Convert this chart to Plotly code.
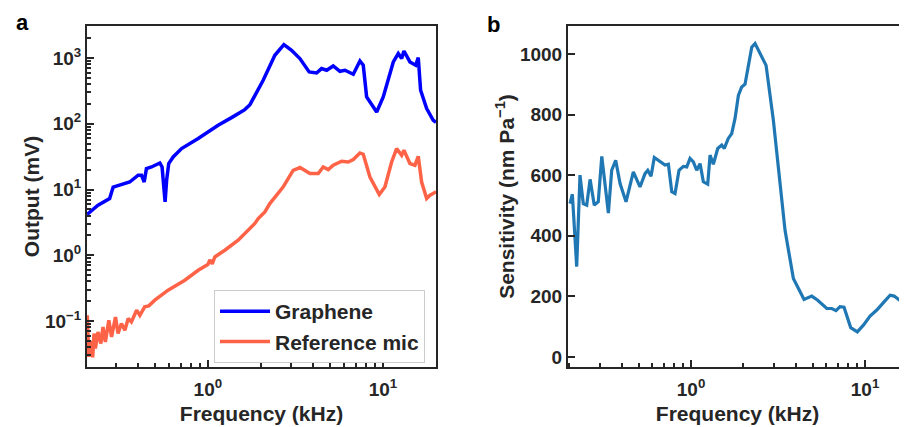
import plotly.graph_objects as go

# ---------------- data ----------------
# Panel a: Graphene output (mV) vs frequency (kHz)
freq_graphene = [0.204, 0.207, 0.236, 0.26, 0.275, 0.288, 0.314, 0.358, 0.400, 0.418, 0.433, 0.446,
                 0.477, 0.532, 0.548, 0.560, 0.570, 0.582, 0.598, 0.634, 0.708, 0.881, 1.145, 1.366,
                 1.626, 1.74, 1.94, 2.07, 2.414, 2.719, 3.007, 3.355, 3.79, 4.18, 4.46, 4.77, 5.20,
                 5.68, 6.07, 6.77, 7.39, 7.72, 8.07, 9.21, 10.04, 11.46, 12.23, 12.79, 13.18, 14.26,
                 15.38, 15.91, 16.41, 17.77, 19.38, 20.1]
out_graphene = [4.2, 4.31, 5.76, 6.6, 7.28, 10.9, 11.6, 13.0, 16.5, 16.5, 13.0, 20.8,
                22.0, 25.3, 22.0, 12.0, 6.47, 14.0, 24.8, 31.3, 42.0, 59.6, 94.9, 124,
                164, 195, 323, 459, 1101, 1602, 1313, 981, 614, 593, 691, 652, 757,
                629, 652, 566, 902, 776, 256, 151, 256, 871, 1169, 981, 1280, 871,
                776, 1016, 323, 170, 113, 105]

# Panel a: Reference mic output (mV) vs frequency (kHz)
freq_ref = [0.204, 0.205, 0.209, 0.212, 0.216, 0.220, 0.224, 0.228, 0.236, 0.245, 0.252, 0.260,
            0.272, 0.282, 0.297, 0.307, 0.321, 0.336, 0.351, 0.366, 0.392, 0.409, 0.436, 0.46,
            0.498, 0.593, 0.739, 0.881, 1.0, 1.027, 1.06, 1.096, 1.25, 1.49, 1.856, 1.94, 2.117,
            2.26, 2.69, 3.07, 3.36, 3.83, 4.27, 4.56, 4.87, 5.20, 5.81, 6.34, 6.77, 7.39, 7.72,
            8.43, 9.53, 10.26, 11.21, 11.97, 12.79, 13.18, 14.26, 15.23, 15.91, 16.63, 17.77,
            18.57, 19.56, 20.1]
out_ref = [0.09, 0.122, 0.0284, 0.05, 0.0403, 0.028, 0.0645, 0.0381, 0.0681, 0.0454, 0.0812, 0.048,
           0.1026, 0.0572, 0.115, 0.0645, 0.0915, 0.0723, 0.109, 0.0968, 0.146, 0.122, 0.164, 0.17,
           0.207, 0.294, 0.417, 0.591, 0.72, 0.85, 0.74, 0.942, 1.19, 1.69, 3.04, 3.61, 4.56,
           6.11, 10.9, 19.6, 21.6, 17.5, 17.5, 22.0, 20.1, 23.4, 26.9, 26.2, 28.6, 36.0, 34.4,
           15.5, 8.38, 10.9, 26.2, 42.0, 33.2, 39.5, 24.8, 23.4, 32.0, 13.0, 7.28,
           8.18, 8.87, 9.2]

# Panel b: Sensitivity (nm/Pa) vs frequency (kHz)
freq_sens = [0.2017, 0.208, 0.2203, 0.2301, 0.2404, 0.2515, 0.263, 0.278, 0.293, 0.307, 0.335, 0.350,
             0.369, 0.391, 0.423, 0.466, 0.509, 0.544, 0.564, 0.589, 0.615, 0.664, 0.693, 0.709,
             0.741, 0.775, 0.809, 0.853, 0.903, 0.945, 0.987, 1.031, 1.078, 1.127, 1.177, 1.247,
             1.286, 1.343, 1.424, 1.501, 1.553, 1.637, 1.713, 1.790, 1.871, 1.955, 2.043, 2.135,
             2.233, 2.333, 2.493, 2.699, 2.972, 3.216, 3.469, 3.873, 4.138, 4.460, 4.939, 5.322,
             6.026, 6.438, 6.81, 7.18, 7.57, 8.27, 9.03, 9.78, 10.69, 11.68, 12.86, 13.93, 14.69,
             15.89, 16.8, 17.6]
sensitivity = [506, 537, 298, 600, 506, 501, 586, 501, 512, 662, 475, 616,
               649, 572, 512, 611, 561, 605, 616, 596, 658, 644, 638, 633,
               636, 545, 539, 616, 629, 627, 655, 644, 616, 638, 578, 570,
               666, 636, 688, 699, 688, 721, 737, 787, 863, 891, 900, 957,
               1022, 1034, 1003, 962, 781, 583, 418, 259, 226, 190, 201, 188,
               160, 160, 153, 166, 164, 97, 83, 105, 135, 155, 182, 204, 201,
               186, 150, 110]

# Tick labels
a_y_tickvals = [0.1, 1, 10, 100, 1000]
a_y_ticktext = ["10<sup>−1</sup>", "10<sup>0</sup>", "10<sup>1</sup>", "10<sup>2</sup>", "10<sup>3</sup>"]
x_tickvals = [1, 10]
x_ticktext = ["10<sup>0</sup>", "10<sup>1</sup>"]
b_y_tickvals = [0, 200, 400, 600, 800, 1000]
b_y_ticktext = ["0", "200", "400", "600", "800", "1000"]

# ---------------- figure ----------------
W, H = 907, 427
OFF = 8  # the page body adds an 8 px margin; lay out in window pixels minus this
FONT = "Liberation Sans, Arial, Helvetica, sans-serif"
TXT = "#262626"
AX = "#262626"


def px(xw):
    return (xw - OFF) / W


def py(yw):
    return 1 - (yw - OFF) / H


x_minor = [m * 10 ** k for k in (-1, 0, 1) for m in range(2, 10)]
y_minor = [m * 10 ** k for k in (-2, -1, 0, 1, 2, 3) for m in range(2, 10)]

fig = go.Figure()
fig.add_trace(go.Scatter(x=freq_graphene, y=out_graphene, mode="lines", name="Graphene",
                         line=dict(color="#0000ff", width=3.5), xaxis="x", yaxis="y"))
fig.add_trace(go.Scatter(x=freq_ref, y=out_ref, mode="lines", name="Reference mic",
                         line=dict(color="#ff6347", width=3.5), xaxis="x", yaxis="y"))
fig.add_trace(go.Scatter(x=freq_sens, y=sensitivity, mode="lines", showlegend=False,
                         line=dict(color="#1f77b4", width=3.2), xaxis="x2", yaxis="y2"))

tickfont = dict(family=FONT, size=19, color=TXT, weight="bold")
titlefont = dict(family=FONT, size=21, color=TXT, weight="bold")
y_dom = [py(367), py(26)]

common = dict(showgrid=False, zeroline=False, showline=True, linecolor=AX, linewidth=2,
              ticks="inside", ticklen=7, tickwidth=2, tickcolor=AX, tickfont=tickfont,
              automargin=False)

fig.update_layout(
    width=W, height=H,
    margin=dict(l=0, r=0, t=0, b=0, autoexpand=False),
    paper_bgcolor="white", plot_bgcolor="white",
    font=dict(family=FONT, color=TXT),
    xaxis=dict(domain=[px(87), px(436)], type="log", range=[-0.69, 1.303], anchor="y",
               mirror=True, tickmode="array", tickvals=x_tickvals, ticktext=x_ticktext,
               ticklabelstandoff=4,
               minor=dict(tickmode="array", tickvals=x_minor, ticks="inside", ticklen=4,
                          tickwidth=1.5, tickcolor=AX),
               title=dict(text="Frequency (kHz)", font=titlefont, standoff=8), **common),
    yaxis=dict(domain=y_dom, type="log", range=[-1.70, 3.487], anchor="x",
               mirror=True, tickmode="array", tickvals=a_y_tickvals, ticktext=a_y_ticktext,
               minor=dict(tickmode="array", tickvals=y_minor, ticks="inside", ticklen=4,
                          tickwidth=1.5, tickcolor=AX),
               title=dict(text="Output (mV)", font=titlefont, standoff=0), **common),
    xaxis2=dict(domain=[px(568), px(907)], type="log", range=[-0.707, 1.241], anchor="y2",
                mirror=True, tickmode="array", tickvals=x_tickvals, ticktext=x_ticktext,
                ticklabelstandoff=4,
                minor=dict(tickmode="array", tickvals=x_minor, ticks="inside", ticklen=4,
                           tickwidth=1.5, tickcolor=AX),
                title=dict(text="Frequency (kHz)", font=titlefont, standoff=8), **common),
    yaxis2=dict(domain=y_dom, range=[-33, 1092], anchor="x2", mirror=False,
                tickmode="array", tickvals=b_y_tickvals, ticktext=b_y_ticktext,
                title=dict(text="Sensitivity (nm Pa<sup>−1</sup>)", font=titlefont, standoff=0),
                **common),
    legend=dict(x=px(425), xanchor="right", y=py(290), yanchor="top",
                bgcolor="white", bordercolor="#cccccc", borderwidth=1,
                font=dict(family=FONT, size=21, color=TXT, weight="bold"),
                tracegroupgap=0, itemwidth=50),
    annotations=[
        dict(text="a", x=px(14), y=py(8), xref="paper", yref="paper", xanchor="left",
             yanchor="top", showarrow=False, font=dict(family=FONT, size=22, color="black", weight="bold")),
        dict(text="b", x=px(485), y=py(10), xref="paper", yref="paper", xanchor="left",
             yanchor="top", showarrow=False, font=dict(family=FONT, size=22, color="black", weight="bold")),
    ],
)

fig.write_html("out.html")
